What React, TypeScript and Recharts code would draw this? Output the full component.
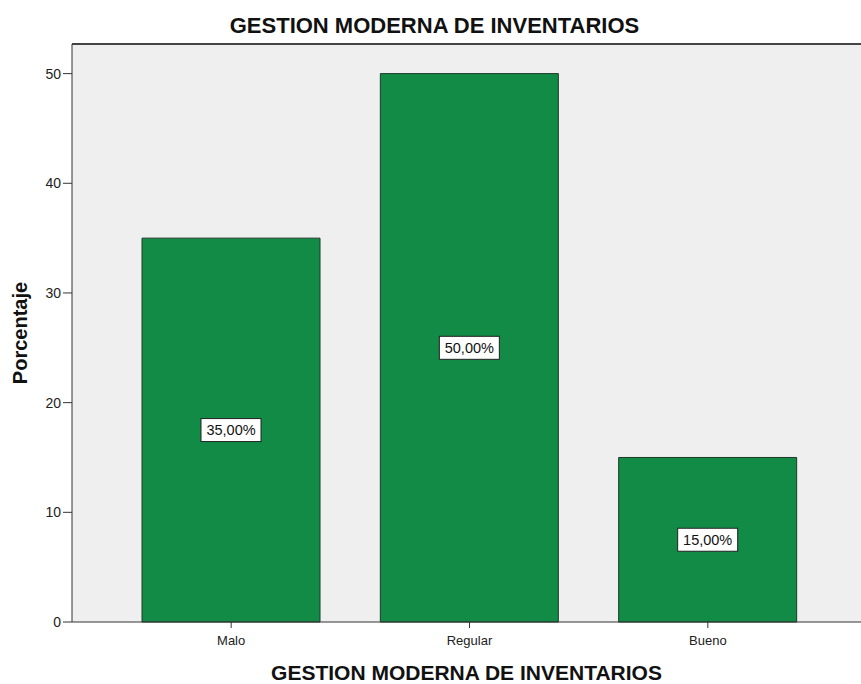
import React from "react";
import { BarChart, Bar, XAxis, YAxis, CartesianGrid, ReferenceLine, LabelList } from "recharts";

const categories = ["Malo", "Regular", "Bueno"];
const percentages = [35, 50, 15];
const valueLabels = ["35,00%", "50,00%", "15,00%"];
const yTicks = [0, 10, 20, 30, 40, 50];

const Y_MAX = 52.7;
const FONT = "'Liberation Sans', Arial, sans-serif";

const data = categories.map((name, i) => ({
  name,
  value: percentages[i],
  label: valueLabels[i],
}));

// white box with border around the value, centered in the bar
function BoxLabel(props: any) {
  const { x, y, width, height, index } = props;
  const cx = x + width / 2;
  const cy = y + height / 2;
  const text = valueLabels[index];
  const w = 60;
  const h = 23;
  return (
    <g>
      <rect x={cx - w / 2} y={cy - h / 2} width={w} height={h} fill="#ffffff" stroke="#222" strokeWidth={1} />
      <text x={cx} y={cy + 5} textAnchor="middle" fontSize={14.5} fontFamily={FONT} fill="#111">
        {text}
      </text>
    </g>
  );
}

export default function App() {
  return (
    <div style={{ position: "absolute", left: 0, top: 0, width: 861, height: 684, background: "#fff", fontFamily: FONT }}>
      <div
        style={{
          position: "absolute",
          top: 13,
          left: 4,
          width: 861,
          textAlign: "center",
          fontWeight: "bold",
          fontSize: 22,
          lineHeight: "25px",
          color: "#111",
        }}
      >
        GESTION MODERNA DE INVENTARIOS
      </div>
      <BarChart width={861} height={684} data={data} margin={{ top: 44, right: 0, left: 0, bottom: 0 }}>
        <CartesianGrid fill="#efefef" horizontal={false} vertical={false} />
        <XAxis
          dataKey="name"
          height={62}
          padding={{ left: 40, right: 34 }}
          tickSize={6}
          tick={{ fontSize: 13, fill: "#222", fontFamily: FONT, dy: 6 }}
          axisLine={{ stroke: "#333" }}
          tickLine={{ stroke: "#333" }}
        />
        <YAxis
          width={72}
          domain={[0, Y_MAX]}
          ticks={yTicks}
          tickSize={9}
          tick={{ fontSize: 14, fill: "#222", fontFamily: FONT }}
          axisLine={{ stroke: "#333" }}
          tickLine={{ stroke: "#333" }}
          label={{
            value: "Porcentaje",
            angle: -90,
            position: "insideLeft",
            offset: 20,
            style: { fontWeight: "bold", fontSize: 20, fill: "#111", fontFamily: FONT, textAnchor: "middle" },
          }}
        />
        <ReferenceLine y={Y_MAX} stroke="#444" strokeWidth={2} />
        <Bar dataKey="value" fill="#128b46" stroke="#1d3a28" strokeWidth={1} barSize={178} isAnimationActive={false}>
          <LabelList dataKey="label" content={BoxLabel} />
        </Bar>
      </BarChart>
      <div
        style={{
          position: "absolute",
          top: 661,
          left: 36,
          width: 861,
          textAlign: "center",
          fontWeight: "bold",
          fontSize: 21,
          lineHeight: "24px",
          color: "#111",
        }}
      >
        GESTION MODERNA DE INVENTARIOS
      </div>
    </div>
  );
}
